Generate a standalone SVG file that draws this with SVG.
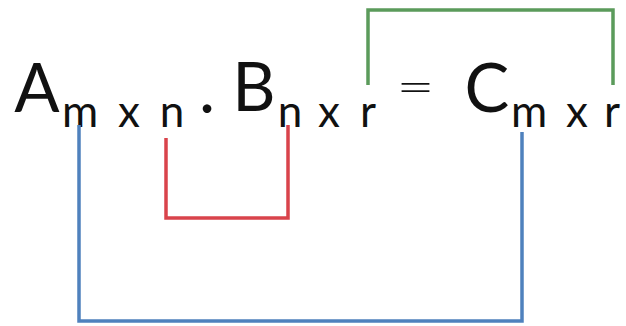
<svg xmlns="http://www.w3.org/2000/svg" width="626" height="326" viewBox="0 0 626 326">
<style>
text{font-family:Lato,"Open Sans","DejaVu Sans",sans-serif;fill:#111;text-anchor:middle}
.big{font-size:67px}
.sub{font-size:44px}
.conn path{fill:none;stroke-width:3.5;stroke-linecap:butt;stroke-linejoin:miter}
</style>
<rect width="626" height="326" fill="#fff"/>
<g id="matrixA">
<text class="big" x="37" y="112">A</text>
<text class="sub" x="80" y="127">m</text>
<text class="sub" x="129" y="127">x</text>
<text class="sub" x="172" y="127">n</text>
</g>
<g id="dot"><text x="207" y="126" style="font-size:58px">·</text></g>
<g id="matrixB">
<text class="big" x="254" y="111">B</text>
<text class="sub" x="290" y="127">n</text>
<text class="sub" x="329" y="127">x</text>
<text class="sub" x="368" y="127">r</text>
</g>
<g id="equals"><text x="396" y="103" style="font-size:47px;text-anchor:start;font-weight:300" textLength="39" lengthAdjust="spacingAndGlyphs">=</text></g>
<g id="matrixC">
<text class="big" x="487" y="112">C</text>
<text class="sub" x="529" y="127">m</text>
<text class="sub" x="577" y="127">x</text>
<text class="sub" x="612" y="127">r</text>
</g>
<g class="conn" id="connectors">
<path d="M79,125 V321 H522 V132" stroke="#4f81bd"/>
<path d="M166,138 V218 H288 V125" stroke="#d9434b"/>
<path d="M368,85 V10 H613 V85" stroke="#5b9b5b"/>
</g>
</svg>
